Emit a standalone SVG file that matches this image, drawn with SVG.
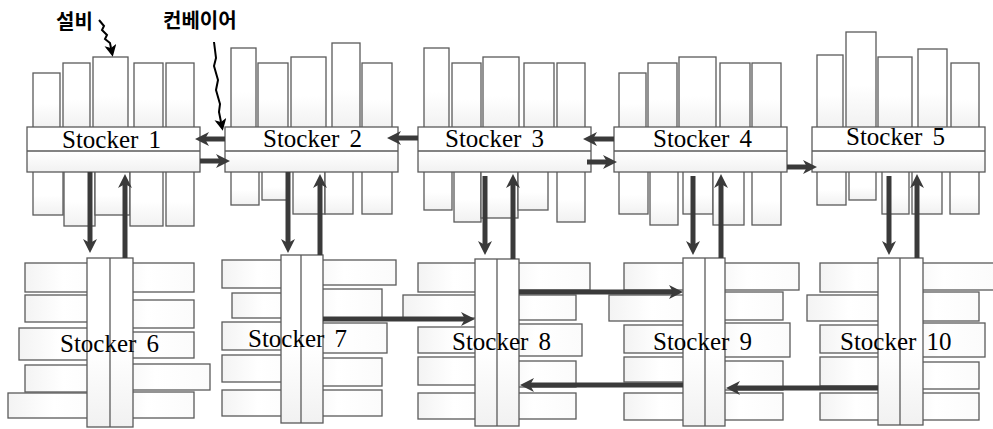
<svg xmlns="http://www.w3.org/2000/svg" width="993" height="429" viewBox="0 0 993 429">
<defs>
<linearGradient id="gv" x1="0" y1="0" x2="0" y2="1"><stop offset="0" stop-color="#ffffff"/><stop offset="0.55" stop-color="#ffffff"/><stop offset="1" stop-color="#f1f1f1"/></linearGradient>
<linearGradient id="gh" x1="0" y1="0" x2="1" y2="0"><stop offset="0" stop-color="#f3f3f3"/><stop offset="0.45" stop-color="#ffffff"/><stop offset="1" stop-color="#fbfbfb"/></linearGradient>
<marker id="ah" markerUnits="userSpaceOnUse" markerWidth="15" markerHeight="15" refX="4" refY="7" orient="auto" viewBox="0 0 15 15"><path d="M0,0 L14,7 L0,14 L4,7 z" fill="#3a3a3a"/></marker>
<marker id="ak" markerUnits="userSpaceOnUse" markerWidth="13" markerHeight="13" refX="3" refY="6" orient="auto" viewBox="0 0 13 13"><path d="M0,0 L12,6 L0,12 L3,6 z" fill="#000"/></marker>
</defs>
<style>
.eq{fill:url(#gv);stroke:#5a5a5a;stroke-width:1.3}
.sh{fill:url(#gh);stroke:#5a5a5a;stroke-width:1.3}
.bar{fill:url(#gv);stroke:#5a5a5a;stroke-width:1.3}
.ln{stroke:#5a5a5a;stroke-width:1.3;fill:none}
.lbl{font-family:"Liberation Serif","Times New Roman",serif;font-size:25px;fill:#000;word-spacing:4px}
.kr{font-family:"Noto Sans CJK KR","Noto Sans",sans-serif;font-size:20px;font-weight:bold;fill:#000}
.arr{stroke:#3a3a3a;stroke-width:5;fill:none;marker-end:url(#ah)}
.ann{stroke:#000;stroke-width:2;fill:none;marker-end:url(#ak)}
</style>
<rect width="993" height="429" fill="#fff"/>

<g id="stocker1">
<rect class="eq" x="33" y="73" width="27" height="55"/><rect class="eq" x="63" y="63" width="27" height="65"/><rect class="eq" x="93" y="57" width="35" height="71"/><rect class="eq" x="134" y="63" width="29" height="65"/><rect class="eq" x="166" y="63" width="28" height="65"/>
<rect class="eq" x="33" y="171" width="30" height="44"/><rect class="eq" x="64" y="171" width="31" height="55"/><rect class="eq" x="95" y="171" width="35" height="44"/><rect class="eq" x="130" y="171" width="33" height="55"/><rect class="eq" x="166" y="171" width="28" height="55"/>
<rect class="bar" x="27" y="127" width="173" height="45"/><line class="ln" x1="27" y1="151" x2="200" y2="151"/>
<text class="lbl" x="62" y="148">Stocker 1</text>
</g>
<g id="stocker2">
<rect class="eq" x="231" y="48" width="25" height="80"/><rect class="eq" x="258" y="63" width="30" height="65"/><rect class="eq" x="291" y="57" width="35" height="71"/><rect class="eq" x="332" y="43" width="28" height="85"/><rect class="eq" x="362" y="63" width="30" height="65"/>
<rect class="eq" x="231" y="171" width="28" height="34"/><rect class="eq" x="262" y="171" width="25" height="29"/><rect class="eq" x="293" y="171" width="32" height="43"/><rect class="eq" x="325" y="171" width="28" height="43"/><rect class="eq" x="362" y="171" width="30" height="43"/>
<rect class="bar" x="225" y="127" width="173" height="45"/><line class="ln" x1="225" y1="151" x2="398" y2="151"/>
<text class="lbl" x="263" y="147">Stocker 2</text>
</g>
<g id="stocker3">
<rect class="eq" x="424" y="48" width="25" height="80"/><rect class="eq" x="452" y="63" width="29" height="65"/><rect class="eq" x="483" y="57" width="36" height="71"/><rect class="eq" x="524" y="63" width="30" height="65"/><rect class="eq" x="557" y="63" width="28" height="65"/>
<rect class="eq" x="424" y="171" width="28" height="39"/><rect class="eq" x="454" y="171" width="27" height="51"/><rect class="eq" x="481" y="171" width="37" height="47"/><rect class="eq" x="518" y="171" width="30" height="39"/><rect class="eq" x="557" y="171" width="28" height="51"/>
<rect class="bar" x="418" y="127" width="173" height="45"/><line class="ln" x1="418" y1="151" x2="591" y2="151"/>
<text class="lbl" x="445" y="147">Stocker 3</text>
</g>
<g id="stocker4">
<rect class="eq" x="619" y="73" width="27" height="55"/><rect class="eq" x="648" y="63" width="29" height="65"/><rect class="eq" x="679" y="57" width="37" height="71"/><rect class="eq" x="720" y="63" width="30" height="65"/><rect class="eq" x="752" y="63" width="29" height="65"/>
<rect class="eq" x="619" y="171" width="29" height="43"/><rect class="eq" x="650" y="171" width="28" height="54"/><rect class="eq" x="683" y="171" width="30" height="43"/><rect class="eq" x="713" y="171" width="31" height="54"/><rect class="eq" x="752" y="171" width="29" height="54"/>
<rect class="bar" x="614" y="127" width="173" height="45"/><line class="ln" x1="614" y1="151" x2="787" y2="151"/>
<text class="lbl" x="653" y="147">Stocker 4</text>
</g>
<g id="stocker5">
<rect class="eq" x="817" y="55" width="26" height="73"/><rect class="eq" x="846" y="32" width="30" height="96"/><rect class="eq" x="878" y="57" width="34" height="71"/><rect class="eq" x="918" y="49" width="29" height="79"/><rect class="eq" x="951" y="63" width="28" height="65"/>
<rect class="eq" x="817" y="171" width="29" height="34"/><rect class="eq" x="849" y="171" width="27" height="29"/><rect class="eq" x="882" y="171" width="27" height="43"/><rect class="eq" x="912" y="171" width="30" height="43"/><rect class="eq" x="950" y="171" width="29" height="43"/>
<rect class="bar" x="812" y="127" width="173" height="45"/><line class="ln" x1="812" y1="151" x2="985" y2="151"/>
<text class="lbl" x="846" y="145">Stocker 5</text>
</g>

<g id="stocker6">
<rect class="sh" x="25" y="263" width="85" height="29"/><rect class="sh" x="25" y="295" width="85" height="27"/><rect class="sh" x="19" y="328" width="91" height="32"/><rect class="sh" x="25" y="365" width="85" height="27"/><rect class="sh" x="8" y="393" width="102" height="25"/>
<rect class="sh" x="110" y="263" width="84" height="29"/><rect class="sh" x="110" y="300" width="84" height="28"/><rect class="sh" x="110" y="332" width="84" height="26"/><rect class="sh" x="110" y="364" width="100" height="26"/><rect class="sh" x="110" y="392" width="84" height="26"/>
<rect class="bar" x="87" y="258" width="46" height="169"/><line class="ln" x1="110" y1="258" x2="110" y2="427"/>
<text class="lbl" x="60" y="352">Stocker 6</text>
</g>
<g id="stocker7">
<rect class="sh" x="222" y="260" width="80" height="28"/><rect class="sh" x="232" y="293" width="70" height="25"/><rect class="sh" x="222" y="322" width="80" height="28"/><rect class="sh" x="222" y="355" width="80" height="27"/><rect class="sh" x="222" y="390" width="80" height="26"/>
<rect class="sh" x="302" y="260" width="94" height="25"/><rect class="sh" x="302" y="289" width="80" height="29"/><rect class="sh" x="302" y="323" width="85" height="30"/><rect class="sh" x="302" y="358" width="80" height="28"/><rect class="sh" x="302" y="390" width="80" height="26"/>
<rect class="bar" x="281" y="255" width="42" height="168"/><line class="ln" x1="301" y1="255" x2="301" y2="423"/>
<text class="lbl" x="248" y="347">Stocker 7</text>
</g>
<g id="stocker8">
<rect class="sh" x="418" y="263" width="80" height="29"/><rect class="sh" x="403" y="295" width="95" height="23"/><rect class="sh" x="418" y="327" width="80" height="26"/><rect class="sh" x="418" y="357" width="80" height="28"/><rect class="sh" x="418" y="393" width="80" height="26"/>
<rect class="sh" x="498" y="263" width="92" height="27"/><rect class="sh" x="498" y="295" width="78" height="25"/><rect class="sh" x="498" y="324" width="84" height="32"/><rect class="sh" x="498" y="361" width="78" height="26"/><rect class="sh" x="498" y="393" width="78" height="26"/>
<rect class="bar" x="475" y="259" width="44" height="167"/><line class="ln" x1="497" y1="259" x2="497" y2="426"/>
<text class="lbl" x="452" y="350">Stocker 8</text>
</g>
<g id="stocker9">
<rect class="sh" x="624" y="263" width="80" height="27"/><rect class="sh" x="609" y="295" width="95" height="26"/><rect class="sh" x="624" y="325" width="80" height="28"/><rect class="sh" x="624" y="357" width="80" height="25"/><rect class="sh" x="624" y="393" width="80" height="27"/>
<rect class="sh" x="705" y="263" width="94" height="27"/><rect class="sh" x="705" y="292" width="78" height="28"/><rect class="sh" x="705" y="323" width="85" height="34"/><rect class="sh" x="705" y="361" width="78" height="29"/><rect class="sh" x="705" y="393" width="78" height="27"/>
<rect class="bar" x="683" y="258" width="42" height="168"/><line class="ln" x1="705" y1="258" x2="705" y2="426"/>
<text class="lbl" x="653" y="350">Stocker 9</text>
</g>
<g id="stocker10">
<rect class="sh" x="820" y="263" width="80" height="29"/><rect class="sh" x="807" y="295" width="93" height="26"/><rect class="sh" x="820" y="325" width="80" height="28"/><rect class="sh" x="820" y="357" width="80" height="29"/><rect class="sh" x="820" y="393" width="80" height="27"/>
<rect class="sh" x="900" y="263" width="96" height="27"/><rect class="sh" x="900" y="292" width="79" height="29"/><rect class="sh" x="900" y="323" width="85" height="34"/><rect class="sh" x="900" y="362" width="79" height="27"/><rect class="sh" x="900" y="393" width="79" height="27"/>
<rect class="bar" x="878" y="258" width="45" height="167"/><line class="ln" x1="900" y1="258" x2="900" y2="425"/>
<text class="lbl" x="840" y="350">Stocker 10</text>
</g>

<g id="connectors">
<path class="arr" d="M225,139 H205"/>
<path class="arr" d="M200,161 H220"/>
<path class="arr" d="M418,138 H397"/>
<path class="arr" d="M614,139 H593"/>
<path class="arr" d="M587,162 H607"/>
<path class="arr" d="M787,167 H807"/>
<path class="arr" d="M90,172 V243"/>
<path class="arr" d="M125,258 V184"/>
<path class="arr" d="M288,172 V243"/>
<path class="arr" d="M320,255 V184"/>
<path class="arr" d="M485,176 V245"/>
<path class="arr" d="M513,259 V184"/>
<path class="arr" d="M693,176 V245"/>
<path class="arr" d="M721,258 V184"/>
<path class="arr" d="M889,176 V245"/>
<path class="arr" d="M917,258 V184"/>
<path class="arr" d="M323,319 H465"/>
<path class="arr" d="M519,292 H673"/>
<path class="arr" d="M878,388 H736"/>
<path class="arr" d="M683,385 H530"/>
</g>

<g id="annotations">
<text class="kr" x="56" y="29">설비</text>
<path class="ann" d="M99,20 L104,26 L102,30 L107,35 L105,39 L110,43 L111,48"/>
<text class="kr" x="163" y="28">컨베이어</text>
<path class="ann" d="M214,42 L216,58 L214,66 L218,80 L216,90 L220,104 L219,112 L221,122"/>
</g>
</svg>
